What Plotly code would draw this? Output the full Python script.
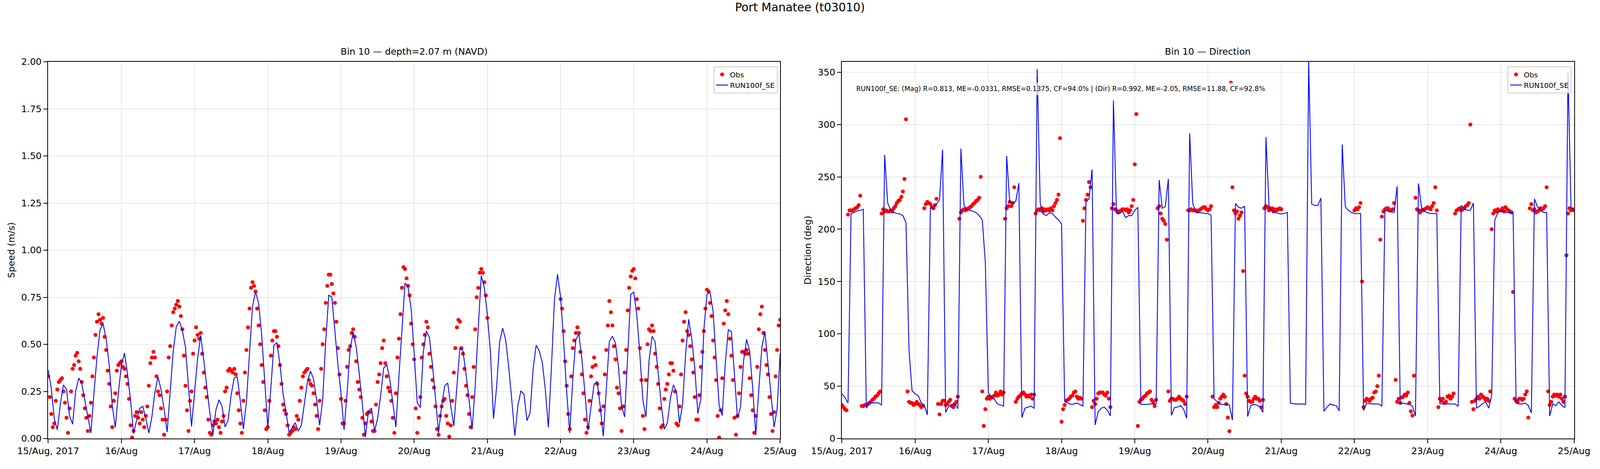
import pandas as pd
import plotly.graph_objects as go

# ---- data (Port Manatee, bin 10) ----
# observed speed (m/s), every 30 min, one list per day
spd_obs_15 = [0.33, 0.22, 0.13, 0.06, 0.08, 0.20, 0.26, 0.30, 0.31, 0.32, 0.25, 0.19,
              0.11, 0.03, 0.16, 0.25, 0.37, 0.39, 0.44, 0.455, 0.41, 0.37, 0.30, 0.23,
              0.16, 0.11, 0.04, 0.12, 0.19, 0.33, 0.43, 0.55, 0.62, 0.66, 0.63, 0.61,
              0.64, 0.54, 0.47, 0.36, 0.29, 0.17, 0.06, 0.20, 0.24, 0.36, 0.39, 0.40]
spd_obs_16 = [0.41, 0.38, 0.37, 0.33, 0.29, 0.21, 0.07, 0.005, 0.04, 0.12, 0.14, 0.11,
              0.08, 0.14, 0.10, 0.06, 0.12, 0.17, 0.28, 0.40, 0.43, 0.46, 0.43, 0.33,
              0.25, 0.23, 0.16, 0.10, 0.02, 0.10, 0.25, 0.43, 0.49, 0.60, 0.67, 0.69,
              0.71, 0.73, 0.70, 0.65, 0.58, 0.44, 0.28, 0.15, 0.04, 0.20, 0.25, 0.45]
spd_obs_17 = [0.52, 0.59, 0.55, 0.53, 0.56, 0.45, 0.35, 0.27, 0.22, 0.10, 0.03, 0.02,
              0.07, 0.09, 0.08, 0.10, 0.06, 0.03, 0.09, 0.12, 0.25, 0.27, 0.36, 0.37,
              0.36, 0.35, 0.37, 0.34, 0.24, 0.15, 0.08, 0.03, 0.20, 0.35, 0.47, 0.59,
              0.69, 0.80, 0.83, 0.81, 0.78, 0.69, 0.60, 0.50, 0.39, 0.30, 0.15, 0.05]
spd_obs_18 = [0.06, 0.20, 0.44, 0.52, 0.57, 0.57, 0.54, 0.49, 0.39, 0.29, 0.18, 0.15,
              0.13, 0.07, 0.02, 0.03, 0.04, 0.06, 0.05, 0.12, 0.10, 0.20, 0.27, 0.33,
              0.35, 0.36, 0.37, 0.31, 0.29, 0.28, 0.24, 0.18, 0.12, 0.05, 0.20, 0.37,
              0.50, 0.58, 0.72, 0.81, 0.87, 0.87, 0.82, 0.77, 0.72, 0.62, 0.48, 0.34]
spd_obs_19 = [0.21, 0.08, 0.08, 0.20, 0.38, 0.47, 0.49, 0.56, 0.58, 0.54, 0.41, 0.30,
              0.26, 0.22, 0.11, 0.02, 0.08, 0.13, 0.14, 0.14, 0.09, 0.04, 0.04, 0.18,
              0.30, 0.34, 0.40, 0.48, 0.52, 0.40, 0.33, 0.27, 0.25, 0.20, 0.11, 0.03,
              0.24, 0.43, 0.53, 0.66, 0.80, 0.91, 0.90, 0.85, 0.81, 0.76, 0.61, 0.50]
spd_obs_20 = [0.42, 0.16, 0.03, 0.11, 0.22, 0.43, 0.50, 0.55, 0.62, 0.59, 0.45, 0.38,
              0.31, 0.27, 0.17, 0.05, 0.02, 0.12, 0.17, 0.20, 0.21, 0.12, 0.08, 0.01,
              0.07, 0.20, 0.35, 0.48, 0.59, 0.63, 0.62, 0.48, 0.45, 0.37, 0.28, 0.23,
              0.13, 0.06, 0.22, 0.38, 0.58, 0.75, 0.80, 0.88, 0.90, 0.88, 0.83, 0.76]
spd_obs_21 = [0.64] + [None] * 47  # ADCP gap on 21 Aug
spd_obs_22 = [0.74, 0.69, 0.57, 0.41, 0.28, 0.13, 0.05, 0.33, 0.48, 0.52, 0.56, 0.59,
              0.56, 0.46, 0.34, 0.24, 0.10, 0.03, 0.06, 0.20, 0.33, 0.38, 0.43, 0.39,
              0.29, 0.24, 0.15, 0.08, 0.17, 0.34, 0.47, 0.60, 0.73, 0.67, 0.60, 0.49,
              0.42, 0.27, 0.24, 0.16, 0.04, 0.17, 0.35, 0.47, 0.68, 0.80, 0.86, 0.89]
spd_obs_23 = [0.90, 0.85, 0.74, 0.69, 0.48, 0.31, 0.12, 0.05, 0.31, 0.50, 0.58, 0.57,
              0.60, 0.57, 0.45, 0.38, 0.29, 0.16, 0.06, 0.07, 0.21, 0.26, 0.29, 0.34,
              0.40, 0.40, 0.36, 0.25, 0.08, 0.07, 0.17, 0.34, 0.52, 0.62, 0.67, 0.57,
              0.55, 0.49, 0.42, 0.35, 0.22, 0.10, 0.10, 0.23, 0.38, 0.46, 0.57, 0.69]
spd_obs_24 = [0.79, 0.78, 0.72, 0.65, 0.52, 0.43, 0.31, 0.12, 0.005, 0.15, 0.32, 0.61,
              0.68, 0.73, 0.66, 0.53, 0.44, 0.31, 0.11, 0.02, 0.12, 0.24, 0.38, 0.46,
              0.46, 0.45, 0.47, 0.45, 0.32, 0.23, 0.15, 0.03, 0.12, 0.38, 0.58, 0.66,
              0.70, 0.56, 0.47, 0.39, 0.34, 0.22, 0.13, 0.04, 0.14, 0.33, 0.47, 0.60]
spd_obs_end = [0.63]

# observed direction (deg), every 30 min
dir_obs_15 = [32, 30, 28, 27, 214, 218, 218, 218, 219, 220, 221, 223,
              232, 31, 31, 32, 32, 33, 34, 35, 37, 38, 40, 41,
              43, 45, 215, 219, 217, 218, 217, 217, 218, 217, 220, 222,
              225, 227, 228, 231, 236, 248, 305, 45, 35, 34, 34, 32]
dir_obs_16 = [33, 35, 33, 32, 30, 31, 220, 224, 226, 225, 224, 221,
              220, 223, 229, 33, 23, 33, 36, 36, 32, 33, 35, 37,
              31, 30, 33, 35, 40, 210, 216, 218, 219, 218, 219, 220,
              221, 222, 224, 225, 227, 228, 230, 250, 45, 12, 28, 38]
dir_obs_17 = [40, 38, 39, 40, 41, 44, 41, 42, 45, 42, 44, 210,
              220, 222, 226, 222, 225, 240, 35, 38, 40, 41, 43, 44,
              42, 40, 41, 40, 42, 38, 42, 215, 218, 219, 218, 220,
              217, 219, 218, 219, 218, 220, 218, 222, 225, 228, 233, 287]
dir_obs_18 = [16, 28, 32, 36, 37, 38, 40, 41, 44, 45, 40, 38,
              39, 38, 208, 220, 228, 233, 245, 240, 30, 36, 33, 38,
              43, 44, 44, 44, 42, 41, 44, 38, 30, 220, 224, 219,
              218, 216, 217, 218, 219, 219, 218, 219, 216, 218, 222, 228]
dir_obs_19 = [262, 310, 12, 35, 37, 38, 40, 41, 43, 44, 45, 37,
              35, 31, 37, 220, 222, 215, 210, 208, 205, 190, 45, 36,
              38, 38, 37, 37, 38, 40, 38, 37, 36, 33, 40, 218,
              218, 219, 218, 218, 218, 217, 218, 219, 220, 221, 221, 219]
dir_obs_20 = [218, 219, 222, 40, 30, 32, 30, 34, 38, 40, 42, 40,
              33, 20, 7, 340, 240, 218, 215, 217, 210, 213, 216, 160,
              60, 43, 40, 36, 35, 35, 38, 40, 38, 38, 36, 30,
              37, 220, 222, 221, 218, 219, 220, 217, 219, 218, 219, 220]
dir_obs_21 = [219] + [None] * 47
dir_obs_22 = [218, 220, 219, 221, 225, 150, 30, 36, 38, 37, 36, 38,
              39, 44, 45, 50, 60, 190, 212, 217, 219, 220, 220, 218,
              218, 219, 225, 56, 35, 38, 34, 39, 40, 42, 41, 44,
              34, 26, 22, 60, 230, 219, 218, 216, 218, 218, 219, 220]
dir_obs_23 = [221, 220, 219, 222, 225, 240, 218, 30, 38, 36, 38, 34,
              35, 40, 41, 38, 40, 43, 215, 218, 219, 220, 218, 219,
              220, 222, 223, 225, 300, 35, 28, 36, 38, 40, 38, 42,
              40, 39, 37, 38, 36, 45, 200, 215, 218, 217, 219, 218]
dir_obs_24 = [218, 220, 217, 221, 219, 218, 217, 216, 140, 38, 36, 35,
              38, 38, 37, 38, 42, 45, 20, 220, 224, 218, 219, 216,
              217, 218, 220, 219, 220, 222, 240, 45, 32, 35, 40, 42,
              41, 42, 40, 42, 38, 35, 40, 175, 215, 220, 218, 219]
dir_obs_end = [218]

# model RUN100f_SE, hourly
spd_mod_15 = [0.364, 0.267, 0.105, 0.046, 0.184, 0.285, 0.262, 0.121, 0.076, 0.25, 0.321, 0.291,
              0.205, 0.115, 0.029, 0.24, 0.433, 0.577, 0.609, 0.53, 0.392, 0.177, 0.059, 0.24]
spd_mod_16 = [0.388, 0.454, 0.343, 0.205, 0.027, 0.098, 0.16, 0.171, 0.108, 0.029, 0.115, 0.247,
              0.326, 0.26, 0.157, 0.034, 0.24, 0.464, 0.593, 0.623, 0.571, 0.485, 0.274, 0.064]
spd_mod_17 = [0.247, 0.426, 0.547, 0.419, 0.274, 0.136, 0.02, 0.153, 0.205, 0.171, 0.061, 0.098,
              0.233, 0.322, 0.328, 0.198, 0.05, 0.195, 0.45, 0.702, 0.78, 0.716, 0.55, 0.309]
spd_mod_18 = [0.06, 0.267, 0.495, 0.51, 0.392, 0.24, 0.136, 0.032, 0.057, 0.084, 0.039, 0.07,
              0.184, 0.302, 0.358, 0.316, 0.205, 0.07, 0.205, 0.52, 0.761, 0.751, 0.571, 0.392]
spd_mod_19 = [0.24, 0.046, 0.24, 0.474, 0.564, 0.485, 0.343, 0.184, 0.008, 0.143, 0.162, 0.041,
              0.105, 0.226, 0.374, 0.392, 0.316, 0.191, 0.061, 0.33, 0.58, 0.826, 0.802, 0.688]
spd_mod_20 = [0.45, 0.191, 0.164, 0.46, 0.571, 0.535, 0.392, 0.205, 0.032, 0.171, 0.278, 0.295,
              0.171, 0.067, 0.274, 0.483, 0.464, 0.343, 0.205, 0.05, 0.274, 0.585, 0.865, 0.8]
spd_mod_21 = [0.654, 0.46, 0.105, 0.267, 0.51, 0.586, 0.524, 0.378, 0.205, 0.015, 0.174, 0.253,
              0.234, 0.095, 0.137, 0.371, 0.495, 0.466, 0.405, 0.26, 0.059, 0.378, 0.737, 0.872]
spd_mod_22 = [0.751, 0.516, 0.247, 0.029, 0.316, 0.523, 0.556, 0.419, 0.24, 0.043, 0.17, 0.288,
              0.302, 0.171, 0.012, 0.267, 0.516, 0.543, 0.506, 0.378, 0.171, 0.115, 0.447, 0.765]
spd_mod_23 = [0.777, 0.654, 0.447, 0.202, 0.115, 0.412, 0.543, 0.512, 0.35, 0.184, 0.05, 0.081,
              0.212, 0.285, 0.247, 0.081, 0.181, 0.447, 0.633, 0.53, 0.378, 0.133, 0.209, 0.58]
spd_mod_24 = [0.765, 0.777, 0.675, 0.426, 0.174, 0.122, 0.398, 0.577, 0.568, 0.343, 0.108, 0.167,
              0.412, 0.526, 0.464, 0.267, 0.019, 0.26, 0.485, 0.568, 0.405, 0.233, 0.06, 0.157]
spd_mod_end = [0.45]

dir_mod_15 = [43, 39, 34, 215, 216, 217.6, 218, 219, 29, 34, 34, 34,
              34, 32, 271, 225, 218, 216, 215, 214.5, 213, 206, 84, 45.5]
dir_mod_16 = [42.7, 41, 34, 32, 22.6, 220, 221.5, 224, 228, 276, 25, 31,
              32.6, 33, 28.5, 277, 223, 218.5, 218, 217, 216, 213, 209, 169]
dir_mod_17 = [43.6, 39.6, 37.3, 33, 32, 31, 270, 226, 224.6, 226.7, 244, 20,
              29, 30, 31, 28.7, 353, 225, 214.5, 213, 215.7, 215, 211.5, 209]
dir_mod_18 = [205, 36, 34, 32.6, 33, 34, 32.6, 31, 226, 229, 257, 13,
              25.6, 29, 30, 27, 21.7, 323, 215.7, 215, 217, 211, 213, 213]
dir_mod_19 = [218, 221, 32.6, 32.6, 32.6, 33, 33, 33, 247, 220, 221.5, 248,
              22, 29.6, 30, 31.5, 28, 19.4, 291.5, 224.6, 216, 215.7, 215.7, 215]
dir_mod_20 = [215, 213.4, 37.8, 35.4, 32.6, 32.6, 32.6, 32, 17.5, 224.6, 221, 220,
              222, 21, 31.5, 32.6, 32, 30, 25, 288, 222.7, 217, 216, 215]
dir_mod_21 = [214.5, 215, 216, 33.8, 33.3, 33, 33, 33, 32.6, 360, 224, 222.7,
              222.7, 229.7, 26, 30, 33, 32, 31.5, 26.4, 281, 221.5, 218, 216]
dir_mod_22 = [215, 215, 215, 26.8, 33.8, 33.3, 33, 33, 33, 30.8, 218, 217.4,
              216.4, 216, 241, 33.3, 33.8, 33, 32.6, 31, 21.5, 243.7, 220.8, 216.9]
dir_mod_23 = [215.7, 215, 215, 215, 33.3, 33, 33, 33, 33, 33, 30.8, 222.7,
              220, 218, 218, 225, 29, 30.8, 33.3, 35, 29, 41, 208.7, 215.7]
dir_mod_24 = [217.6, 216.9, 216, 215.7, 216, 33.8, 33, 33, 33.8, 31.5, 24.5, 229,
              221.5, 218, 216, 216, 21.5, 33, 31.5, 35, 31.5, 29.6, 350, 220.8]
dir_mod_end = [218]

day_labels = ["15/Aug, 2017", "16/Aug", "17/Aug", "18/Aug", "19/Aug", "20/Aug",
              "21/Aug", "22/Aug", "23/Aug", "24/Aug", "25/Aug"]
stats_text = ("RUN100f_SE: (Mag) R=0.813, ME=-0.0331, RMSE=0.1375, CF=94.0% | "
              "(Dir) R=0.992, ME=-2.05, RMSE=11.88, CF=92.8%")

# ---- assemble series ----
obs_speed = (spd_obs_15 + spd_obs_16 + spd_obs_17 + spd_obs_18 + spd_obs_19 + spd_obs_20
             + spd_obs_21 + spd_obs_22 + spd_obs_23 + spd_obs_24 + spd_obs_end)
obs_dir = (dir_obs_15 + dir_obs_16 + dir_obs_17 + dir_obs_18 + dir_obs_19 + dir_obs_20
           + dir_obs_21 + dir_obs_22 + dir_obs_23 + dir_obs_24 + dir_obs_end)
mod_speed = (spd_mod_15 + spd_mod_16 + spd_mod_17 + spd_mod_18 + spd_mod_19 + spd_mod_20
             + spd_mod_21 + spd_mod_22 + spd_mod_23 + spd_mod_24 + spd_mod_end)
mod_dir = (dir_mod_15 + dir_mod_16 + dir_mod_17 + dir_mod_18 + dir_mod_19 + dir_mod_20
           + dir_mod_21 + dir_mod_22 + dir_mod_23 + dir_mod_24 + dir_mod_end)

t_start, t_end = "2017-08-15 00:00", "2017-08-25 00:00"
obs_time = pd.date_range(t_start, t_end, freq="30min")
mod_time = pd.date_range(t_start, t_end, freq="h")
day_ticks = pd.date_range(t_start, t_end, freq="D")

# positions were measured on the 5000x1200 reference; the figure itself fills the window
W, H = 5000, 1200
FS = 0.84  # font scale: the window we get is narrower than the reference
FONT = "DejaVu Sans"


def px_x(p):
    return p / W


def px_y(p):
    return 1 - p / H


fig = go.Figure()

# left panel: speed
fig.add_trace(go.Scatter(x=obs_time, y=obs_speed, mode="markers", name="Obs",
                         marker=dict(color="#ff0000", size=10, line=dict(width=0)),
                         xaxis="x", yaxis="y", legend="legend"))
fig.add_trace(go.Scatter(x=mod_time, y=mod_speed, mode="lines", name="RUN100f_SE",
                         line=dict(color="#0000ff", width=2.2),
                         xaxis="x", yaxis="y", legend="legend"))
# right panel: direction
fig.add_trace(go.Scatter(x=obs_time, y=obs_dir, mode="markers", name="Obs",
                         marker=dict(color="#ff0000", size=10, line=dict(width=0)),
                         xaxis="x2", yaxis="y2", legend="legend2"))
fig.add_trace(go.Scatter(x=mod_time, y=mod_dir, mode="lines", name="RUN100f_SE",
                         line=dict(color="#0000ff", width=2.2),
                         xaxis="x2", yaxis="y2", legend="legend2"))

axis_common = dict(showline=True, mirror=True, linecolor="black", linewidth=2.2,
                   ticks="outside", ticklen=10, tickwidth=2.2, tickcolor="black",
                   showgrid=True, gridcolor="#e7e7e7", gridwidth=2, zeroline=False,
                   automargin=False,
                   tickfont=dict(family=FONT, size=28 * FS, color="black"))

xaxis_common = dict(axis_common, type="date", range=[t_start, t_end],
                    tickmode="array", tickvals=day_ticks, ticktext=day_labels)

y_dom = [px_y(1122), px_y(158)]

fig.update_layout(
    autosize=True,
    margin=dict(l=0, r=0, t=0, b=0, autoexpand=False),
    paper_bgcolor="white", plot_bgcolor="white",
    font=dict(family=FONT, color="black"),
    title=dict(text="Port Manatee (t03010)", x=0.5, xanchor="center",
               y=px_y(19), yanchor="middle", font=dict(size=35 * FS, family=FONT)),
    xaxis=dict(xaxis_common, domain=[px_x(150.6), px_x(2438)], anchor="y"),
    yaxis=dict(axis_common, domain=y_dom, anchor="x", range=[0, 2], dtick=0.25,
               tickformat=".2f",
               title=dict(text="Speed (m/s)", standoff=10,
                          font=dict(size=28 * FS, family=FONT))),
    xaxis2=dict(xaxis_common, domain=[px_x(2631), px_x(4919)], anchor="y2"),
    yaxis2=dict(axis_common, domain=y_dom, anchor="x2", range=[0, 360],
                tickmode="array", tickvals=list(range(0, 351, 50)),
                title=dict(text="Direction (deg)", standoff=10,
                           font=dict(size=28 * FS, family=FONT))),
    legend=dict(x=px_x(2430), xanchor="right", y=px_y(170), yanchor="top",
                bgcolor="rgba(255,255,255,0.8)", bordercolor="#cccccc", borderwidth=2,
                font=dict(size=22 * FS, family=FONT)),
    legend2=dict(x=px_x(4911), xanchor="right", y=px_y(170), yanchor="top",
                 bgcolor="rgba(255,255,255,0.8)", bordercolor="#cccccc", borderwidth=2,
                 font=dict(size=22 * FS, family=FONT)),
)

# panel titles and the skill-score box
fig.add_annotation(text="Bin 10 \u2014 depth=2.07 m (NAVD)", xref="paper", yref="paper",
                   x=px_x(1294), y=px_y(132), xanchor="center", yanchor="middle",
                   showarrow=False, font=dict(size=28 * FS, family=FONT))
fig.add_annotation(text="Bin 10 \u2014 Direction", xref="paper", yref="paper",
                   x=px_x(3775), y=px_y(132), xanchor="center", yanchor="middle",
                   showarrow=False, font=dict(size=28 * FS, family=FONT))
fig.add_annotation(text=stats_text, xref="paper", yref="paper",
                   x=px_x(2668), y=px_y(228), xanchor="left", yanchor="middle",
                   showarrow=False, bgcolor="rgba(255,255,255,0.7)", borderpad=5,
                   font=dict(size=17, family=FONT))

fig.write_html("out.html", config={"displayModeBar": False, "responsive": True},
               default_width="100vw", default_height="100vh",
               post_script="document.body.style.margin='0';document.body.style.overflow='hidden';")
